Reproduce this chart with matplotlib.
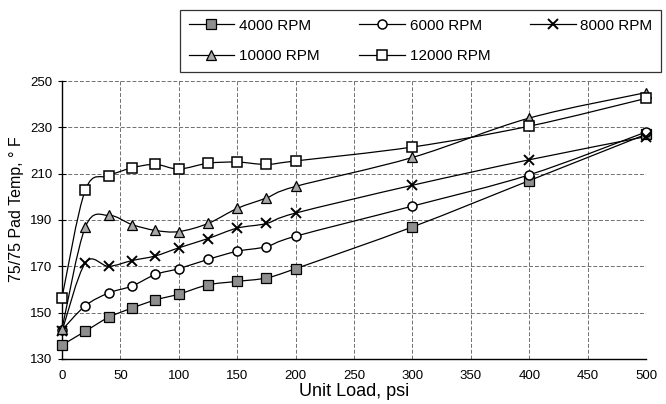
import numpy as np
import matplotlib
matplotlib.use("Agg")
import matplotlib.pyplot as plt
from matplotlib.path import Path
from matplotlib.patches import PathPatch
from matplotlib.lines import Line2D

plt.rcParams['font.family'] = ['Liberation Sans', 'DejaVu Sans']

# unit load, psi
load = [0, 20, 40, 60, 80, 100, 125, 150, 175, 200, 300, 400, 500]

# pad temperature, deg F
rpm4000 = [136, 142, 148, 152, 155.5, 158, 162, 163.5, 165, 169, 187, 207, 227]
rpm6000 = [142.5, 153, 158.5, 161.5, 166.5, 169, 173, 176.5, 178.5, 183, 196, 209.5, 228]
rpm8000 = [142, 171.5, 170, 172.5, 174.5, 178, 182, 186.5, 188.5, 193, 205, 216, 226]
rpm10000 = [143, 187, 192, 188, 185.5, 185, 188.5, 195, 199.5, 204.5, 217, 234, 245]
rpm12000 = [156.5, 203, 209, 212.5, 214, 212, 214.5, 215, 214, 215.5, 221.5, 230.5, 242.5]

labels = ['4000 RPM', '6000 RPM', '8000 RPM', '10000 RPM', '12000 RPM']
xticks = [0, 50, 100, 150, 200, 250, 300, 350, 400, 450, 500]
yticks = [130, 150, 170, 190, 210, 230, 250]


def smooth_path(x, y):
    # excel style smoothed line: bezier segments through the points
    pts = np.column_stack([x, y]).astype(float)
    n = len(pts)
    verts = [pts[0]]
    codes = [Path.MOVETO]
    for i in range(n - 1):
        p0 = pts[max(i - 1, 0)]
        p1 = pts[i]
        p2 = pts[i + 1]
        p3 = pts[min(i + 2, n - 1)]
        c1 = p1 + (p2 - p0) / 6.0
        c2 = p2 - (p3 - p1) / 6.0
        verts += [c1, c2, p2]
        codes += [Path.CURVE4] * 3
    return Path(verts, codes)


styles = [
    dict(marker='s', markersize=6.5, markerfacecolor='#8e8e8e', markeredgecolor='black', markeredgewidth=0.9),
    dict(marker='o', markersize=6.5, markerfacecolor='white', markeredgecolor='black', markeredgewidth=1.1),
    dict(marker='x', markersize=7, markeredgecolor='black', markeredgewidth=1.4),
    dict(marker='^', markersize=7, markerfacecolor='#a8a8a8', markeredgecolor='black', markeredgewidth=0.9),
    dict(marker='s', markersize=6.5, markerfacecolor='white', markeredgecolor='black', markeredgewidth=1.1),
]

fig = plt.figure(figsize=(6.66, 4.04), dpi=100)
ax = fig.add_axes([0.0931, 0.1114, 0.877, 0.6881])

series = [rpm4000, rpm6000, rpm8000, rpm10000, rpm12000]
handles = []
for vals, st, lab in zip(series, styles, labels):
    ax.add_patch(PathPatch(smooth_path(load, vals), facecolor='none',
                           edgecolor='black', linewidth=0.9, zorder=3))
    ax.plot(load, vals, linestyle='none', zorder=4, clip_on=False, **st)
    handles.append(Line2D([], [], color='black', linewidth=0.9, **st))

ax.set_xlim(0, 500)
ax.set_ylim(130, 250)
ax.set_xticks(xticks)
ax.set_yticks(yticks)
ax.grid(True, color='#707070', linestyle=(0, (4, 2)), linewidth=0.7)
ax.set_axisbelow(True)
for s in ['top', 'right']:
    ax.spines[s].set_visible(False)
ax.spines['left'].set_linewidth(1.0)
ax.spines['bottom'].set_linewidth(1.0)
ax.tick_params(axis='y', direction='inout', length=6, labelsize=9.5, pad=4)
ax.tick_params(axis='x', length=0, labelsize=9.5, pad=8)

ax.set_xlabel('Unit Load, psi', fontsize=13, labelpad=1)
ax.set_ylabel('75/75 Pad Temp, \u00b0 F', fontsize=11.5)
ax.yaxis.set_label_coords(-0.065, 0.54)

# legend fills by column, reorder so rows read 4000/6000/8000 then 10000/12000
order = [0, 3, 1, 4, 2]
leg = fig.legend([handles[i] for i in order], [labels[i] for i in order],
                 loc='upper right', ncol=3,
                 bbox_to_anchor=(0.9925, 0.975),
                 fontsize=11, frameon=True, fancybox=False,
                 handlelength=3.0, handletextpad=0.3, borderpad=0.55,
                 labelspacing=1.1, columnspacing=2.6, borderaxespad=0)
leg.get_frame().set_edgecolor('black')
leg.get_frame().set_linewidth(0.9)

fig.savefig('out.png', dpi=100)
